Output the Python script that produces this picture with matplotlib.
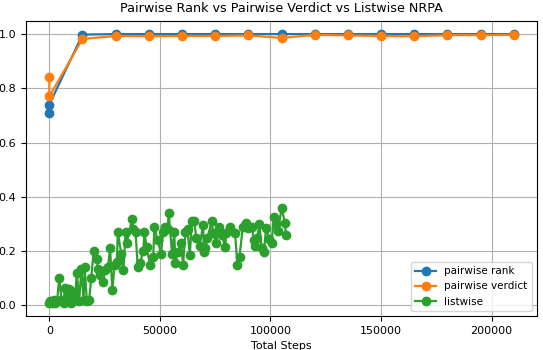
import numpy as np
import matplotlib
matplotlib.use("Agg")
import matplotlib.pyplot as plt

# pairwise rank / verdict evaluated every 15000 steps (two extra evals at step 0)
rank_steps = [0, 0, 15000, 30000, 45000, 60000, 75000, 90000, 105000,
              120000, 135000, 150000, 165000, 180000, 195000, 210000]
rank_vals = [0.71, 0.74, 0.998, 1.0, 1.0, 1.0, 1.0, 1.0, 1.0,
             1.0, 1.0, 1.0, 1.0, 1.0, 1.0, 1.0]

verdict_steps = [0, 0, 15000, 30000, 45000, 60000, 75000, 90000, 105000,
                 120000, 135000, 150000, 165000, 180000, 195000, 210000]
verdict_vals = [0.84, 0.77, 0.982, 0.993, 0.992, 0.993, 0.993, 0.995, 0.986,
                0.997, 0.995, 0.993, 0.992, 0.996, 0.996, 0.997]

# listwise NRPA
list_steps = [0, 500, 1000, 2000, 2500, 3500, 4500, 5500, 6500, 7000,
              8000, 9000, 10000, 11000, 11500, 12500, 13500, 14500, 15500, 16000,
              17000, 18000, 19000, 20000, 21500, 22000, 23000, 24500, 25000, 26500,
              27500, 28500, 29500, 30500, 31000, 32500, 33500, 34500, 35000, 37500,
              38000, 39000, 40000, 41000, 42500, 43000, 44000, 45500, 47000, 47500,
              49000, 50500, 51500, 52500, 53500, 54000, 55500, 56500, 57000, 58000,
              59500, 60500, 61500, 62500, 63500, 64500, 65500, 66500, 68000, 69500,
              70000, 70500, 71500, 73500, 74000, 75500, 76500, 78000, 79500, 80000,
              81500, 84000, 85000, 86000, 87500, 89000, 90000, 91500, 92500, 93000,
              94000, 95000, 96000, 97000, 98000, 99500, 100500, 101500, 102500, 103500,
              105000, 106500, 107000]
list_vals = [0.01, 0.015, 0.01, 0.02, 0.01, 0.015, 0.10, 0.02, 0.01, 0.065,
             0.02, 0.06, 0.01, 0.05, 0.02, 0.12, 0.015, 0.135, 0.02, 0.14,
             0.015, 0.02, 0.10, 0.20, 0.17, 0.135, 0.11, 0.085, 0.13, 0.14,
             0.21, 0.055, 0.15, 0.16, 0.27, 0.19, 0.13, 0.27, 0.23, 0.32,
             0.28, 0.27, 0.14, 0.155, 0.20, 0.27, 0.215, 0.15, 0.18, 0.29,
             0.24, 0.19, 0.27, 0.29, 0.28, 0.34, 0.19, 0.27, 0.155, 0.195,
             0.23, 0.15, 0.27, 0.28, 0.185, 0.31, 0.31, 0.25, 0.22, 0.295,
             0.195, 0.21, 0.25, 0.31, 0.265, 0.23, 0.29, 0.26, 0.215, 0.265,
             0.29, 0.265, 0.15, 0.18, 0.29, 0.305, 0.285, 0.29, 0.24, 0.22,
             0.25, 0.30, 0.21, 0.195, 0.285, 0.245, 0.23, 0.325, 0.30, 0.275,
             0.36, 0.305, 0.26]

fig, ax = plt.subplots(figsize=(5.43, 3.5), dpi=100)
fig.subplots_adjust(left=0.048, right=0.989, top=0.941, bottom=0.097)

ax.plot(rank_steps, rank_vals, marker='o', markersize=6, linewidth=1.6, label='pairwise rank')
ax.plot(verdict_steps, verdict_vals, marker='o', markersize=6, linewidth=1.6, label='pairwise verdict')
ax.plot(list_steps, list_vals, marker='o', markersize=6, linewidth=1.6, label='listwise')

ax.set_title('Pairwise Rank vs Pairwise Verdict vs Listwise NRPA', fontsize=9.2)
ax.set_xlabel('Total Steps', fontsize=8)
ax.tick_params(labelsize=8)
ax.grid(True)
ax.legend(loc='lower right', fontsize=7.5)

fig.savefig('out.png')
